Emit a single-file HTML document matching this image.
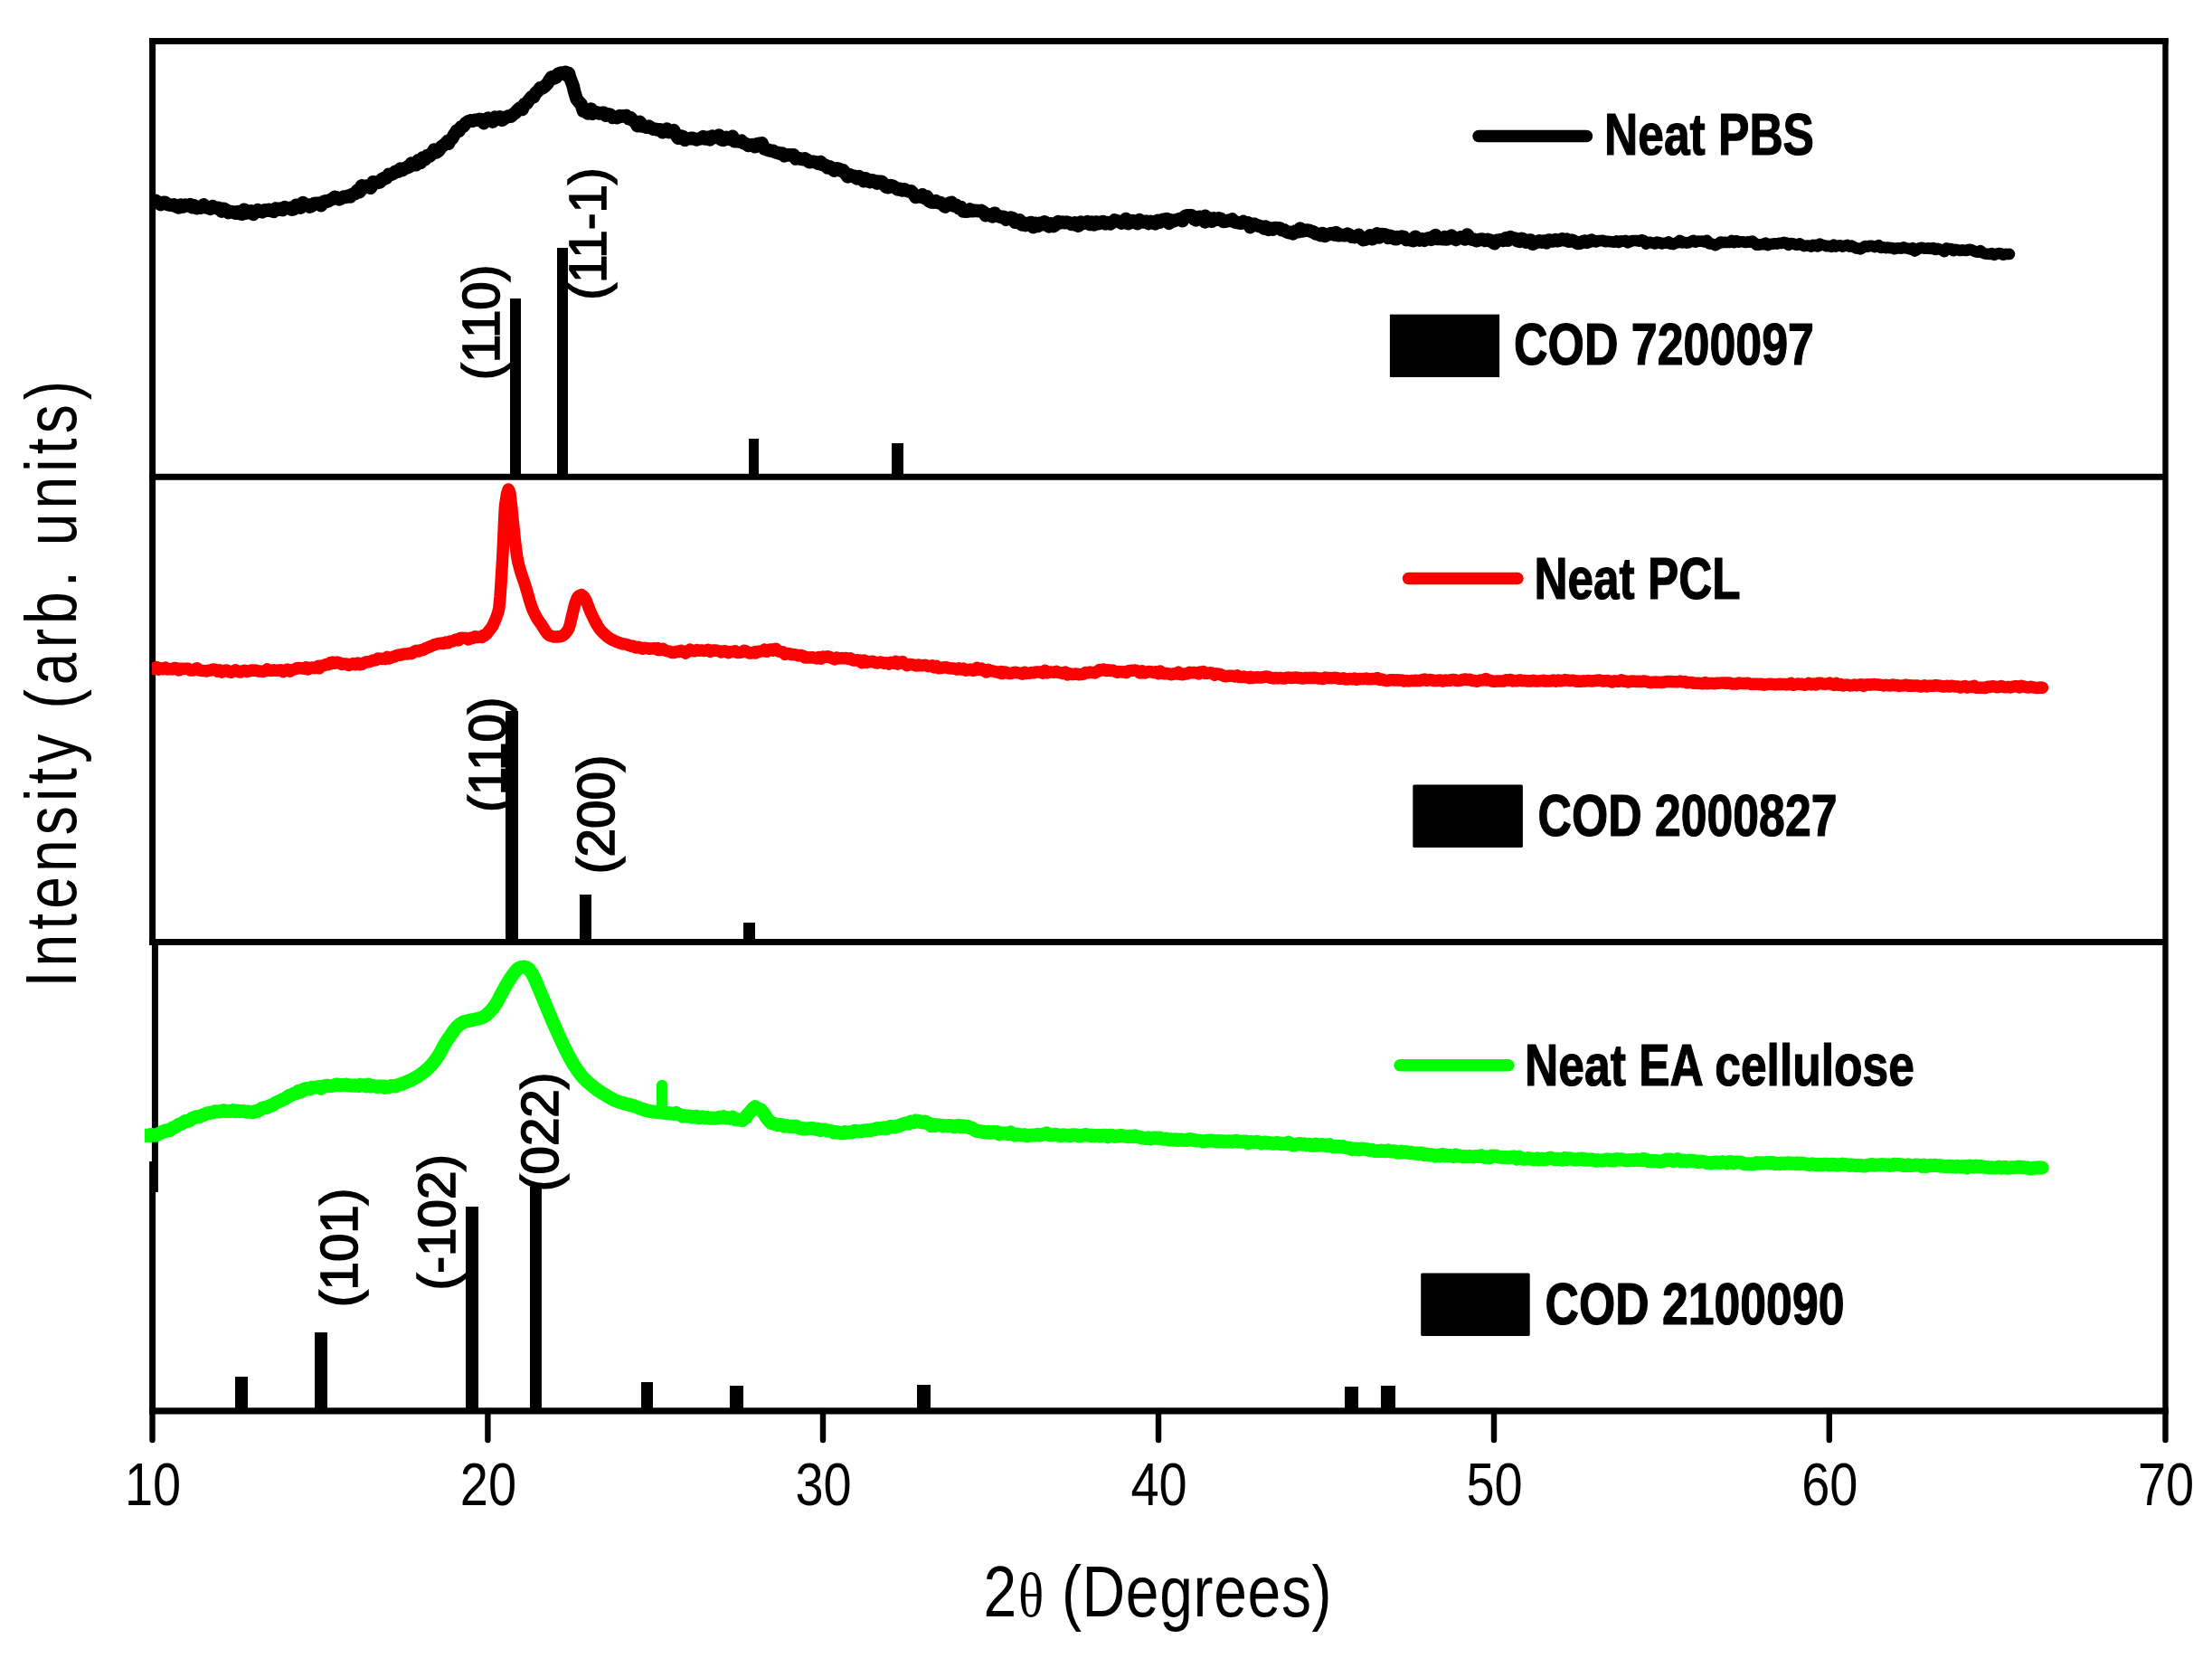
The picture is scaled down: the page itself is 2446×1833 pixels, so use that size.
<!DOCTYPE html>
<html lang="en">
<head>
<meta charset="utf-8">
<title>XRD patterns: Neat PBS, Neat PCL, Neat EA cellulose</title>
<style>
html,body{margin:0;padding:0;background:#fff;}
body{width:2446px;height:1833px;overflow:hidden;font-family:"Liberation Sans",sans-serif;}
svg{display:block;}
svg text{font-family:"Liberation Sans",sans-serif;fill:#000;}
.theta{font-family:"Liberation Serif","DejaVu Serif",serif;}
</style>
</head>
<body>
<svg width="2446" height="1833" viewBox="0 0 2446 1833">
<rect x="0" y="0" width="2446" height="1833" fill="#fff"/>

<!-- reference (COD) bars -->
<g fill="#000" shape-rendering="crispEdges">
<rect x="564.3" y="330.3" width="11.3" height="197.0"/>
<rect x="616.4" y="274.0" width="11.4" height="253.3"/>
<rect x="828.1" y="484.7" width="10.8" height="42.6"/>
<rect x="986.3" y="490.2" width="12.7" height="37.1"/>
<rect x="559.4" y="785.5" width="13.3" height="256.1"/>
<rect x="640.6" y="989.3" width="13.0" height="52.3"/>
<rect x="822.1" y="1019.8" width="12.8" height="21.8"/>
<rect x="260.1" y="1522.3" width="13.6" height="37.6"/>
<rect x="348.3" y="1472.9" width="13.6" height="87.0"/>
<rect x="515.2" y="1334.0" width="13.6" height="225.9"/>
<rect x="585.8" y="1311.5" width="13.5" height="248.4"/>
<rect x="709.0" y="1528.2" width="13.3" height="31.7"/>
<rect x="807.2" y="1531.7" width="14.9" height="28.2"/>
<rect x="1014.2" y="1530.9" width="14.7" height="29.0"/>
<rect x="1486.9" y="1533.0" width="14.9" height="26.9"/>
<rect x="1527.3" y="1531.7" width="15.7" height="28.2"/>
</g>

<!-- frame -->
<g stroke="#000" stroke-width="7" fill="none" stroke-linecap="butt">
<line x1="165" y1="45.5" x2="2397.7" y2="45.5"/>
<line x1="168.6" y1="42" x2="168.6" y2="1045"/>
<line x1="171.4" y1="1038" x2="171.4" y2="1318"/>
<line x1="168.6" y1="1284" x2="168.6" y2="1563"/>
<line x1="2394.5" y1="42" x2="2394.5" y2="1563" stroke-width="6.4"/>
<line x1="165" y1="527.3" x2="2397" y2="527.3"/>
<line x1="165" y1="1041.6" x2="2397" y2="1041.6"/>
<line x1="165" y1="1559.9" x2="2397.7" y2="1559.9" stroke-width="7.4"/>
</g>
<g stroke="#000" stroke-width="6.4" stroke-linecap="round">
<line x1="168.5" y1="1560" x2="168.5" y2="1592"/>
<line x1="539.4" y1="1560" x2="539.4" y2="1592"/>
<line x1="910" y1="1560" x2="910" y2="1592"/>
<line x1="1281" y1="1560" x2="1281" y2="1592"/>
<line x1="1652" y1="1560" x2="1652" y2="1592"/>
<line x1="2022.8" y1="1560" x2="2022.8" y2="1592"/>
<line x1="2394.5" y1="1560" x2="2394.5" y2="1592"/>
</g>

<!-- hkl labels -->
<g font-size="56.5" stroke="#000" stroke-width="1.6">
<text transform="translate(552.3,356.3) rotate(-90)" text-anchor="middle">(110)</text>
<text transform="translate(669.7,258.5) rotate(-90)" text-anchor="middle">(11-1)</text>
<text transform="translate(559.3,834.2) rotate(-90)" text-anchor="middle">(110)</text>
<text transform="translate(679.0,900.3) rotate(-90)" text-anchor="middle">(200)</text>
<text transform="translate(395.0,1379.4) rotate(-90)" text-anchor="middle">(101)</text>
<text transform="translate(503.0,1351.2) rotate(-90)" text-anchor="middle">(-102)</text>
<text transform="translate(617.0,1251.4) rotate(-90)" text-anchor="middle">(022)</text>
</g>

<!-- measured patterns -->
<defs>
<clipPath id="cpbs"><rect x="168.6" y="40" width="2300" height="500"/></clipPath>
<clipPath id="cpcl"><rect x="168" y="520" width="2300" height="520"/></clipPath>
<clipPath id="ccel"><rect x="160" y="1040" width="2300" height="520"/></clipPath>
</defs>
<path clip-path="url(#cpbs)" d="M160.0,223.5 L162.5,223.6 L165.0,223.7 L167.5,223.8 L170.0,223.3 L172.0,221.9 L175.0,223.9 L177.5,226.1 L180.0,224.0 L182.5,223.7 L185.0,226.1 L187.5,226.5 L190.0,226.9 L192.5,226.4 L195.0,228.4 L197.5,229.3 L200.0,226.5 L202.5,228.5 L205.0,226.6 L207.5,227.5 L210.0,226.3 L212.5,229.0 L215.0,227.5 L217.5,230.2 L220.0,229.5 L222.5,229.7 L225.0,226.4 L227.5,229.1 L230.0,229.8 L232.5,230.8 L235.0,228.1 L237.5,230.0 L240.0,229.8 L242.5,230.0 L245.0,233.6 L247.5,230.7 L250.0,232.2 L252.5,235.1 L255.0,234.0 L257.5,234.5 L260.0,235.6 L262.5,235.6 L263.0,234.1 L265.0,236.2 L267.5,236.7 L270.0,231.8 L272.5,235.5 L275.0,234.5 L277.5,233.3 L280.0,236.9 L282.5,234.4 L285.0,232.1 L287.5,233.5 L290.0,234.3 L292.5,232.3 L295.0,232.6 L297.5,231.9 L300.0,233.1 L302.5,233.9 L305.0,230.5 L307.5,231.9 L310.0,230.7 L312.5,232.0 L315.0,229.3 L317.0,230.2 L320.0,229.9 L322.5,231.7 L325.0,231.1 L327.5,226.7 L330.0,227.8 L332.5,229.6 L335.0,224.1 L337.5,226.4 L340.0,226.3 L342.5,228.6 L345.0,227.5 L347.5,225.1 L350.0,224.9 L352.5,224.8 L355.0,227.2 L357.5,223.3 L360.0,222.2 L362.5,222.6 L365.0,221.1 L367.5,220.0 L370.0,217.9 L371.0,219.0 L372.5,218.4 L375.0,220.3 L377.5,219.2 L380.0,217.6 L382.5,217.9 L385.0,216.5 L387.5,217.4 L390.0,214.6 L392.5,214.2 L395.0,210.7 L397.5,212.3 L398.5,207.8 L400.0,205.4 L402.5,207.5 L405.0,205.5 L407.5,206.4 L410.0,207.7 L412.5,201.3 L415.0,201.5 L417.5,202.0 L420.0,201.4 L422.5,198.0 L425.0,196.8 L425.6,197.5 L427.5,196.6 L430.0,192.8 L432.5,192.9 L435.0,191.7 L437.5,189.5 L440.0,189.8 L442.5,186.8 L445.0,188.1 L447.5,186.0 L450.0,185.4 L452.5,183.0 L452.8,184.3 L455.0,180.6 L457.5,181.2 L460.0,182.3 L462.5,177.3 L465.0,179.9 L467.5,174.4 L470.0,176.2 L472.5,172.2 L475.0,172.7 L477.5,170.3 L480.0,165.5 L482.5,168.4 L485.0,166.7 L487.5,162.9 L490.0,160.8 L492.5,159.2 L495.0,156.1 L496.0,158.6 L497.5,155.0 L500.0,153.2 L502.5,148.4 L504.0,146.5 L505.0,144.6 L507.5,144.6 L510.0,140.1 L512.5,139.7 L515.0,136.1 L517.5,134.3 L520.0,133.7 L520.6,133.3 L522.5,133.7 L525.0,132.7 L527.5,132.8 L530.0,131.9 L532.5,132.2 L535.0,136.1 L537.5,131.9 L540.0,130.6 L542.5,132.5 L545.0,134.6 L547.5,129.5 L547.8,132.2 L550.0,131.3 L552.5,129.3 L555.0,132.8 L557.5,131.0 L560.0,129.6 L562.5,128.3 L565.0,128.7 L567.5,126.3 L569.5,125.1 L572.5,121.7 L575.0,119.4 L577.5,121.0 L580.0,115.0 L582.5,114.3 L585.0,110.5 L587.5,107.7 L588.5,106.8 L590.0,107.1 L592.5,102.7 L595.0,100.5 L597.5,97.1 L600.0,97.4 L602.5,95.4 L605.0,92.8 L607.5,88.8 L610.0,85.3 L612.5,86.5 L615.0,85.5 L616.0,82.8 L617.5,81.7 L620.0,80.6 L621.0,81.2 L622.5,81.7 L625.0,79.7 L627.5,83.4 L629.0,81.1 L630.0,85.4 L632.5,91.7 L634.0,96.0 L635.0,100.8 L637.5,109.3 L640.0,112.5 L642.5,115.1 L645.0,122.8 L646.0,120.9 L647.5,123.4 L650.0,125.5 L652.5,122.0 L653.6,120.6 L655.0,125.7 L657.5,124.9 L660.0,124.3 L662.5,125.5 L665.0,125.0 L667.5,124.6 L670.0,127.8 L672.5,126.3 L675.0,126.9 L677.5,130.0 L680.0,129.4 L682.5,130.1 L685.0,128.1 L687.5,128.7 L690.0,128.2 L692.5,127.9 L695.0,131.1 L697.0,130.1 L700.0,133.3 L702.5,135.0 L705.0,139.3 L707.5,134.8 L710.0,139.5 L712.5,139.6 L715.0,140.7 L717.5,139.7 L720.0,141.2 L722.5,142.7 L725.0,142.8 L727.0,143.4 L730.0,143.3 L732.5,146.1 L735.0,145.1 L737.5,142.5 L740.0,146.0 L742.5,144.9 L745.0,144.0 L747.5,149.1 L750.0,152.8 L752.5,151.7 L754.0,150.7 L755.0,151.1 L757.5,154.8 L760.0,153.4 L762.5,153.3 L765.0,152.7 L767.5,153.3 L770.0,154.4 L772.0,153.8 L775.0,153.2 L777.5,151.2 L780.0,153.3 L782.5,151.7 L785.0,154.4 L787.5,150.5 L789.5,151.7 L792.5,151.9 L795.0,149.5 L797.5,154.3 L800.0,154.8 L802.5,151.9 L805.0,153.8 L807.5,154.1 L810.0,150.8 L812.5,156.3 L815.0,156.1 L817.5,156.5 L820.0,155.7 L822.5,158.3 L825.0,159.1 L827.5,161.0 L830.0,160.2 L832.5,160.0 L835.0,162.3 L837.5,159.0 L840.0,159.4 L842.5,158.2 L845.0,164.3 L847.5,165.2 L850.0,166.0 L852.0,166.7 L855.0,166.8 L857.5,168.4 L860.0,168.9 L862.5,169.6 L865.0,169.5 L867.5,172.3 L870.0,171.3 L872.5,171.4 L875.0,171.3 L877.5,171.2 L880.0,175.4 L882.5,174.8 L885.0,175.8 L887.5,176.1 L890.0,175.4 L892.5,177.0 L895.0,179.2 L897.5,178.8 L900.0,178.9 L902.5,179.4 L905.0,180.9 L907.5,179.1 L910.0,182.3 L912.5,182.5 L915.0,185.3 L917.5,184.3 L920.0,186.5 L922.5,188.6 L925.0,186.3 L927.5,186.7 L930.0,188.8 L930.7,189.0 L932.5,188.4 L935.0,191.9 L937.5,195.4 L940.0,193.5 L942.5,195.0 L945.0,194.9 L947.5,197.4 L950.0,195.3 L952.5,196.8 L955.0,200.3 L957.5,197.3 L960.0,200.4 L962.5,201.2 L965.0,199.4 L967.5,200.3 L970.0,202.8 L971.0,200.7 L972.5,200.9 L975.0,200.7 L977.5,203.6 L980.0,206.9 L982.5,207.3 L985.0,205.1 L987.5,205.8 L990.0,207.4 L992.5,209.4 L995.0,208.9 L997.5,210.4 L998.5,210.1 L1000.0,209.3 L1002.5,210.8 L1005.0,211.5 L1007.5,211.4 L1010.0,214.0 L1012.5,217.9 L1015.0,217.3 L1017.5,217.6 L1020.0,215.2 L1022.5,219.2 L1025.0,217.2 L1025.6,218.4 L1027.5,222.4 L1030.0,223.5 L1032.5,223.6 L1035.0,222.2 L1037.5,224.1 L1040.0,224.0 L1042.5,226.2 L1045.0,228.6 L1047.5,226.0 L1050.0,224.5 L1052.5,223.9 L1052.8,226.9 L1055.0,227.6 L1057.5,226.8 L1060.0,230.0 L1062.5,229.0 L1065.0,233.5 L1067.5,233.6 L1070.0,233.6 L1072.5,231.5 L1075.0,233.3 L1077.5,232.7 L1080.0,233.0 L1082.5,233.3 L1085.0,232.9 L1087.5,234.3 L1090.0,238.2 L1092.5,237.0 L1095.0,238.1 L1097.5,239.5 L1100.0,235.7 L1102.5,238.4 L1105.0,239.3 L1107.0,239.9 L1110.0,239.9 L1112.5,242.8 L1115.0,241.8 L1117.5,240.6 L1120.0,241.3 L1122.5,245.8 L1125.0,246.0 L1127.5,243.3 L1130.0,248.4 L1132.5,247.7 L1134.0,249.2 L1135.0,247.0 L1137.5,246.8 L1140.0,246.1 L1142.5,251.1 L1145.0,246.9 L1147.5,250.0 L1150.0,246.7 L1152.5,248.2 L1155.0,245.2 L1157.5,247.5 L1160.0,250.4 L1162.5,247.3 L1165.0,250.1 L1167.5,248.3 L1170.0,245.0 L1172.5,246.3 L1175.0,245.6 L1177.5,246.2 L1180.0,245.6 L1182.5,246.4 L1185.0,248.0 L1187.5,247.5 L1188.5,246.4 L1190.0,248.6 L1192.5,249.6 L1195.0,245.5 L1197.5,247.1 L1200.0,246.3 L1202.5,245.1 L1205.0,248.0 L1207.5,245.5 L1210.0,248.5 L1212.5,245.5 L1215.0,247.2 L1217.5,245.8 L1220.0,245.0 L1222.5,247.3 L1225.0,246.2 L1227.5,247.4 L1230.0,246.1 L1232.5,243.4 L1235.0,244.3 L1237.5,245.1 L1240.0,246.6 L1242.5,244.0 L1242.7,245.2 L1245.0,242.0 L1247.5,247.1 L1250.0,245.4 L1252.5,244.1 L1255.0,246.0 L1257.5,247.0 L1260.0,243.1 L1262.5,245.3 L1265.0,245.5 L1267.5,244.6 L1270.0,247.1 L1272.5,244.9 L1275.0,246.1 L1277.5,247.2 L1280.0,243.9 L1282.5,245.5 L1285.0,243.1 L1287.5,242.6 L1290.0,242.1 L1292.5,246.9 L1295.0,243.5 L1297.0,244.4 L1300.0,243.5 L1302.5,242.8 L1305.0,241.9 L1307.5,244.3 L1310.0,239.3 L1312.5,238.3 L1315.0,238.4 L1317.5,238.2 L1320.0,241.9 L1322.5,243.2 L1325.0,240.1 L1327.5,239.8 L1330.0,242.3 L1332.5,245.4 L1332.6,238.9 L1335.0,244.5 L1337.5,241.2 L1340.0,244.7 L1342.5,241.5 L1345.0,242.7 L1347.5,241.4 L1350.0,242.1 L1352.5,244.9 L1355.0,244.7 L1357.5,243.9 L1360.0,243.7 L1362.5,242.5 L1365.0,245.2 L1367.5,245.9 L1370.0,246.4 L1372.5,246.7 L1375.0,245.0 L1377.5,246.4 L1380.0,246.4 L1381.4,248.7 L1382.5,251.1 L1385.0,247.7 L1387.5,247.9 L1390.0,249.2 L1392.5,249.9 L1395.0,250.7 L1397.5,252.3 L1400.0,250.6 L1402.5,253.9 L1405.0,252.5 L1407.5,253.6 L1410.0,252.0 L1412.5,252.2 L1415.0,252.2 L1417.5,254.3 L1420.0,254.3 L1422.5,256.2 L1425.0,257.1 L1427.5,256.9 L1430.0,258.3 L1432.5,255.7 L1435.0,256.3 L1435.7,256.3 L1437.5,252.6 L1440.0,255.5 L1442.5,254.9 L1445.0,254.6 L1447.5,254.8 L1450.0,255.9 L1452.5,256.6 L1455.0,258.5 L1457.5,258.7 L1460.0,260.0 L1462.5,258.1 L1465.0,260.9 L1467.5,259.7 L1470.0,258.8 L1472.5,258.0 L1475.0,259.3 L1477.5,257.0 L1480.0,260.2 L1482.5,259.8 L1485.0,260.1 L1487.5,260.1 L1490.0,258.7 L1492.5,260.0 L1495.0,261.8 L1497.5,262.1 L1500.0,261.5 L1502.5,259.7 L1505.0,263.3 L1507.5,265.2 L1510.0,264.7 L1512.5,262.8 L1515.0,260.3 L1517.5,264.3 L1520.0,262.3 L1522.5,258.3 L1525.0,262.4 L1527.5,259.0 L1530.0,259.2 L1532.5,259.7 L1535.0,262.9 L1537.5,260.9 L1540.0,262.0 L1542.5,264.2 L1544.0,264.2 L1545.0,262.0 L1547.5,262.8 L1550.0,261.6 L1552.5,262.2 L1555.0,265.1 L1557.5,264.8 L1560.0,265.3 L1562.5,266.1 L1565.0,261.7 L1567.5,263.5 L1570.0,265.5 L1572.5,264.3 L1575.0,265.8 L1577.5,264.1 L1580.0,263.3 L1582.5,264.9 L1585.0,261.5 L1587.5,260.1 L1590.0,264.0 L1592.5,263.5 L1595.0,264.2 L1597.5,262.0 L1598.5,264.4 L1600.0,264.4 L1602.5,263.1 L1605.0,260.5 L1607.5,263.5 L1610.0,265.0 L1612.5,263.5 L1615.0,262.3 L1617.5,262.7 L1620.0,264.5 L1622.5,259.5 L1625.0,262.8 L1627.5,264.6 L1630.0,264.8 L1632.5,266.2 L1635.0,265.5 L1637.5,264.5 L1640.0,264.7 L1642.5,266.0 L1645.0,264.8 L1647.5,265.7 L1650.0,267.4 L1652.5,269.3 L1655.0,265.7 L1657.5,265.5 L1660.0,265.2 L1662.5,265.8 L1665.0,263.2 L1667.5,265.8 L1670.0,262.1 L1672.5,263.6 L1675.0,263.5 L1677.5,266.0 L1680.0,266.8 L1682.5,263.8 L1685.0,264.8 L1687.5,267.5 L1690.0,266.0 L1692.5,265.5 L1695.0,269.8 L1697.5,268.3 L1700.0,267.1 L1702.5,266.4 L1705.0,267.6 L1707.0,266.7 L1710.0,268.2 L1712.5,265.5 L1715.0,266.0 L1717.5,266.5 L1720.0,265.1 L1722.5,266.2 L1725.0,265.6 L1727.5,264.3 L1730.0,265.5 L1732.5,264.7 L1735.0,266.7 L1737.5,265.7 L1740.0,266.3 L1742.5,267.9 L1745.0,268.9 L1747.5,268.7 L1750.0,267.3 L1752.5,266.6 L1755.0,267.8 L1757.5,266.8 L1760.0,265.7 L1762.5,267.1" fill="none" stroke="#000" stroke-width="14.6" stroke-linejoin="round" stroke-linecap="butt"/>
<path d="M1760.0,265.7 L1762.5,267.1 L1765.0,267.4 L1767.5,266.1 L1770.0,266.1 L1772.5,265.9 L1775.0,267.2 L1777.5,266.7 L1780.0,267.1 L1782.5,267.3 L1785.0,267.8 L1787.5,266.4 L1790.0,268.0 L1792.5,266.4 L1795.0,266.8 L1797.5,265.9 L1800.0,268.3 L1802.5,267.2 L1805.0,266.0 L1807.5,266.0 L1810.0,266.1 L1812.5,266.7 L1815.0,265.3 L1815.6,265.3 L1817.5,265.8 L1820.0,269.6 L1822.5,268.1 L1825.0,267.8 L1827.5,268.8 L1830.0,269.5 L1832.5,267.6 L1835.0,268.1 L1837.5,269.5 L1840.0,268.8 L1842.5,268.6 L1845.0,267.4 L1847.5,269.8 L1850.0,270.1 L1852.5,268.8 L1855.0,268.4 L1857.5,265.7 L1860.0,268.4 L1862.5,267.8 L1865.0,268.6 L1867.5,268.2 L1870.0,267.2 L1872.5,265.8 L1875.0,267.6 L1877.5,266.6 L1880.0,266.7 L1882.5,266.6 L1885.0,267.4 L1887.5,265.7 L1890.0,269.5 L1892.5,269.5 L1895.0,270.3 L1897.0,271.2 L1900.0,269.4 L1902.5,267.5 L1905.0,268.1 L1907.5,267.8 L1910.0,268.0 L1912.5,267.9 L1915.0,266.0 L1917.5,268.1 L1920.0,266.1 L1922.5,267.7 L1925.0,267.3 L1927.5,267.2 L1930.0,268.0 L1932.5,267.4 L1935.0,267.6 L1937.5,266.5 L1940.0,268.5 L1942.5,270.8 L1945.0,270.8 L1947.5,270.1 L1950.0,270.2 L1952.5,268.7 L1955.0,271.0 L1957.5,269.8 L1960.0,269.8 L1962.5,269.3 L1965.0,269.6 L1967.5,268.7 L1970.0,268.9 L1972.5,267.9 L1975.0,268.4 L1977.5,270.9 L1980.0,269.0 L1982.5,269.2 L1985.0,270.4 L1987.5,270.7 L1990.0,269.3 L1992.5,270.9 L1995.0,272.1 L1997.5,271.6 L2000.0,271.5 L2002.5,272.6 L2005.0,270.8 L2007.5,271.8 L2008.8,270.7 L2010.0,272.5 L2012.5,269.7 L2015.0,270.9 L2017.5,271.4 L2020.0,272.3 L2022.5,271.9 L2025.0,272.8 L2027.5,270.7 L2030.0,272.6 L2032.5,271.7 L2035.0,271.2 L2037.5,272.7 L2040.0,271.7 L2042.5,270.9 L2045.0,272.6 L2047.5,271.7 L2050.0,273.1 L2052.5,274.4 L2055.0,274.6 L2057.5,275.4 L2060.0,273.7 L2062.5,272.0 L2065.0,272.7 L2067.5,271.8 L2070.0,271.7 L2072.5,273.1 L2075.0,272.5 L2077.5,271.2 L2080.0,273.9 L2082.5,273.3 L2085.0,274.1 L2087.5,273.5 L2090.0,274.3 L2092.5,274.0 L2095.0,275.2 L2097.5,274.4 L2100.0,274.2 L2102.5,274.6 L2105.0,273.4 L2107.5,274.4 L2110.0,274.8 L2112.5,275.6 L2115.0,274.3 L2117.4,277.6 L2120.0,275.9 L2122.5,274.1 L2125.0,273.7 L2127.5,274.7 L2130.0,274.7 L2132.5,274.2 L2135.0,274.9 L2137.5,274.1 L2140.0,276.0 L2142.5,274.8 L2145.0,275.5 L2147.5,276.6 L2150.0,278.1 L2152.5,274.4 L2155.0,275.4 L2157.5,275.0 L2160.0,277.2 L2162.5,275.8 L2165.0,276.4 L2167.5,277.0 L2170.0,276.4 L2172.5,276.9 L2175.0,277.0 L2177.5,275.7 L2180.0,276.2 L2182.5,277.4 L2185.0,278.4 L2187.5,278.7 L2190.0,277.2 L2192.5,279.4 L2195.0,280.5 L2197.5,280.8 L2200.0,280.9 L2202.5,280.1 L2205.0,281.8 L2207.5,280.8 L2210.0,280.1 L2212.5,280.3 L2215.0,281.7 L2217.5,280.9 L2220.0,281.0 L2222.0,280.9" fill="none" stroke="#000" stroke-width="12.6" stroke-linejoin="round" stroke-linecap="round"/>
<path clip-path="url(#cpcl)" d="M158.0,739.8 L160.5,739.8 L163.0,739.8 L165.5,739.9 L168.0,739.3 L170.5,739.6 L173.0,737.5 L175.5,740.1 L178.0,738.7 L180.5,739.8 L183.0,738.2 L185.5,740.0 L188.0,739.5 L190.5,740.0 L193.0,738.4 L195.5,738.9 L198.0,741.1 L200.0,739.2 L203.0,739.4 L205.5,739.3 L208.0,739.2 L210.5,741.0 L213.0,741.1 L215.5,739.9 L218.0,738.8 L220.5,741.0 L223.0,741.4 L225.5,741.5 L228.0,742.0 L230.5,741.2 L233.0,741.1 L235.5,740.0 L238.0,740.2 L240.5,742.2 L243.0,740.8 L245.5,743.0 L248.0,741.3 L250.5,740.9 L253.0,742.6 L255.5,743.2 L258.0,742.1 L260.5,740.9 L262.8,742.2 L265.5,743.0 L268.0,741.9 L270.5,741.2 L273.0,742.4 L275.5,742.1 L278.0,741.0 L280.5,741.3 L283.0,741.1 L285.5,741.9 L288.0,742.1 L290.5,742.4 L293.0,741.7 L295.5,739.9 L298.0,741.2 L300.0,741.4 L303.0,740.8 L305.5,741.3 L308.0,741.1 L310.5,740.8 L313.0,742.6 L315.5,741.1 L318.0,740.0 L320.5,742.1 L323.0,740.6 L325.5,740.0 L328.0,738.8 L330.5,738.6 L333.0,738.7 L335.5,739.0 L338.0,739.4 L338.8,737.7 L340.5,739.9 L343.0,738.4 L345.5,738.0 L348.0,738.6 L350.5,737.7 L352.0,736.2 L353.0,738.7 L355.5,736.1 L358.0,735.7 L360.5,734.4 L363.0,734.7 L365.5,732.5 L366.0,733.7 L368.0,732.1 L370.5,733.3 L373.0,732.0 L375.5,732.9 L378.0,734.4 L380.5,733.9 L383.0,734.0 L385.5,735.4 L388.0,734.4 L390.4,733.5 L393.0,734.7 L395.5,733.1 L398.0,734.7 L400.5,734.1 L403.0,732.6 L405.5,731.7 L408.0,731.7 L410.5,730.8 L413.0,729.9 L415.5,729.8 L418.0,727.9 L420.5,728.3 L423.0,728.2 L425.5,728.1 L425.6,728.6 L428.0,726.5 L430.5,728.0 L433.0,726.8 L435.5,726.1 L438.0,724.9 L440.5,724.1 L443.0,724.3 L445.5,723.3 L448.0,723.1 L450.5,722.9 L452.8,722.3 L455.5,722.5 L458.0,720.6 L460.5,719.3 L463.0,720.0 L465.5,718.7 L468.0,718.5 L470.5,716.7 L473.0,716.0 L475.5,714.7 L478.0,713.9 L480.0,712.8 L483.0,712.0 L485.5,711.4 L488.0,711.1 L490.5,711.5 L493.0,710.0 L495.5,710.8 L498.0,708.9 L500.5,709.0 L503.0,707.5 L505.5,706.8 L507.0,707.9 L508.0,706.0 L510.5,705.2 L513.0,705.4 L515.5,705.4 L518.0,707.0 L520.5,705.3 L523.0,705.4 L525.5,703.8 L528.0,704.6 L530.5,704.0 L533.0,704.5 L534.2,702.4 L535.5,703.1 L538.0,701.1 L540.5,697.5 L541.0,697.0 L543.0,694.6 L545.0,691.5 L548.0,684.7 L549.0,682.0 L550.5,677.9 L551.8,672.5 L553.0,659.8 L554.0,645.0 L555.5,620.1 L555.9,612.8 L558.0,567.0 L558.6,558.5 L560.5,546.0 L562.1,540.9 L563.0,542.3 L563.8,545.0 L565.5,558.5 L566.8,572.1 L568.0,583.9 L569.5,598.0 L570.5,606.4 L572.2,618.2 L573.0,622.1 L575.5,631.3 L576.0,633.0 L578.0,638.9 L580.3,645.4 L583.0,654.5 L585.5,663.4 L588.0,671.2 L588.5,672.5 L590.5,677.2 L593.0,682.1 L593.5,683.0 L595.5,686.2 L598.0,689.7 L599.3,691.5 L600.5,693.3 L603.0,697.3 L605.5,700.8 L607.5,702.4 L610.5,703.6 L613.0,704.0 L615.5,704.0 L618.0,703.8 L619.7,703.7 L620.5,703.5 L623.0,702.2 L625.0,700.5 L628.0,696.6 L629.2,694.2 L630.5,689.8 L632.5,681.0 L635.5,668.7 L636.0,667.1 L638.0,661.6 L639.0,660.0 L640.5,658.6 L642.8,657.6 L645.5,659.7 L646.5,661.0 L648.0,663.6 L650.5,670.1 L653.0,676.7 L653.6,678.0 L655.5,681.9 L658.0,686.9 L660.5,691.4 L663.0,695.3 L664.4,697.0 L665.5,698.2 L668.0,700.7 L670.5,702.9 L673.0,704.9 L675.5,706.5 L678.0,707.8 L680.5,708.9 L683.0,709.9 L685.5,710.8 L688.0,711.7 L690.5,712.0 L693.0,712.5 L695.5,713.5 L698.0,714.2 L700.0,714.2 L703.0,716.0 L705.5,715.3 L708.0,716.0 L710.5,717.3 L713.0,716.3 L715.5,716.6 L718.0,717.3 L720.5,717.1 L723.0,716.7 L725.5,716.9 L727.0,716.4 L728.0,718.5 L730.5,718.4 L733.0,717.3 L735.5,719.1 L738.0,719.8 L740.5,720.2 L743.0,721.5 L745.5,721.5 L748.0,720.2 L750.5,720.5 L753.0,719.3 L754.3,720.3 L755.5,720.1 L758.0,722.1 L760.5,720.0 L763.0,718.2 L765.5,719.5 L768.0,719.7 L770.5,718.6 L773.0,719.2 L775.5,718.9 L778.0,719.4 L780.5,719.3 L783.0,718.3 L785.5,720.4 L788.0,719.0 L790.5,719.0 L793.0,719.3 L795.5,720.0 L797.7,720.9 L800.5,719.7 L803.0,720.2 L805.5,721.6 L808.0,720.4 L810.5,720.6 L813.0,719.8 L815.5,721.5 L818.0,721.3 L820.0,721.0 L823.0,719.2 L825.5,720.3 L828.0,721.9 L830.5,722.0 L833.0,721.3 L835.5,721.9 L835.7,720.4 L838.0,720.8 L840.5,720.0 L843.0,719.8 L845.5,718.1 L846.0,720.0 L848.0,720.2 L850.5,718.4 L853.0,717.9 L854.7,719.2 L855.5,718.0 L858.0,717.3 L860.5,720.0 L863.0,720.5 L865.5,720.7 L868.0,723.3 L870.0,722.4 L873.0,722.7 L875.5,723.7 L878.0,723.5 L880.5,724.0 L883.0,724.9 L885.5,724.5 L888.0,725.3 L890.0,727.1 L893.0,726.8 L895.5,727.0 L898.0,726.8 L900.5,727.1 L903.0,728.0 L905.5,726.5 L908.0,728.1 L910.5,726.1 L913.0,726.4 L915.5,725.7 L918.0,726.8 L920.5,727.7 L923.0,728.9 L925.5,727.0 L928.0,727.9 L930.5,727.6 L933.0,727.7 L935.5,727.5 L938.0,728.5 L940.5,727.8 L943.0,729.8 L944.2,730.0 L945.5,729.9 L948.0,729.8 L950.5,729.9 L953.0,732.7 L955.5,729.9 L958.0,732.3 L960.5,731.8 L963.0,731.5 L965.5,731.3 L968.0,732.7 L970.5,732.9 L973.0,731.9 L975.5,732.4 L978.0,733.2 L980.5,732.8 L983.0,734.1 L985.5,732.3 L988.0,733.1 L990.5,731.4 L993.0,734.0 L995.5,732.5 L998.0,731.5 L998.5,733.2 L1000.5,733.9 L1003.0,735.6 L1005.5,734.5 L1008.0,734.7 L1010.5,735.1 L1013.0,736.0 L1015.5,734.9 L1018.0,735.8 L1020.5,735.7 L1023.0,735.3 L1025.5,736.4 L1028.0,736.6 L1030.5,735.9 L1033.0,737.8 L1035.5,736.3 L1038.0,738.7 L1040.5,738.6 L1043.0,737.9 L1045.5,737.6 L1048.0,738.3 L1050.5,738.8 L1052.8,739.1 L1055.5,739.0 L1058.0,740.0 L1060.5,738.9 L1063.0,740.0 L1065.5,739.1 L1068.0,741.2 L1070.5,740.7 L1073.0,740.0 L1075.5,741.3 L1078.0,740.8 L1080.5,738.2 L1083.0,740.4 L1085.5,739.2 L1088.0,741.3 L1090.5,743.1 L1093.0,740.4 L1095.5,741.5 L1098.0,741.9 L1100.5,742.6 L1103.0,743.0 L1105.5,743.9 L1107.0,742.4 L1108.0,744.6 L1110.5,742.9 L1113.0,743.4 L1115.5,744.4 L1118.0,744.4 L1120.5,743.4 L1123.0,743.3 L1125.5,743.9 L1128.0,744.2 L1130.5,745.1 L1133.0,743.3 L1134.2,744.5 L1135.5,744.1 L1138.0,744.2 L1140.5,743.6 L1143.0,743.7 L1145.5,742.9 L1147.8,742.9 L1150.5,742.9 L1153.0,744.1 L1155.5,741.3 L1158.0,743.9 L1160.5,743.1 L1163.0,743.1 L1165.0,743.3 L1168.0,742.3 L1170.5,743.6 L1173.0,743.7 L1175.5,744.5 L1178.0,743.2 L1180.5,745.9 L1183.0,744.7 L1185.5,745.4 L1188.0,745.2 L1188.5,745.1 L1190.5,745.1 L1193.0,745.7 L1195.5,745.6 L1198.0,745.2 L1200.5,743.4 L1203.0,743.7 L1205.5,743.1 L1208.0,743.5 L1210.5,744.0 L1213.0,742.5 L1215.5,741.7 L1215.6,740.6 L1218.0,740.7 L1220.5,740.0 L1223.0,741.5 L1225.5,740.7 L1228.0,741.6 L1230.5,741.1 L1233.0,742.2 L1235.5,743.2 L1238.0,742.5 L1240.5,743.0 L1242.7,742.7 L1245.5,743.6 L1248.0,741.7 L1250.5,741.3 L1253.0,741.2 L1255.5,741.1 L1258.0,742.1 L1260.5,744.1 L1263.0,741.7 L1265.5,744.0 L1268.0,743.2 L1270.5,742.4 L1273.0,742.7 L1275.5,743.4 L1278.0,742.8 L1280.5,744.7 L1283.0,742.1 L1285.5,744.6 L1288.0,744.8 L1290.5,744.5 L1293.0,745.1 L1295.5,745.7 L1297.0,745.1 L1298.0,744.8 L1300.5,745.1 L1303.0,743.2 L1305.5,745.5 L1308.0,745.7 L1310.5,744.7 L1313.0,744.9 L1315.5,743.3 L1318.0,743.8 L1320.5,743.6 L1323.0,743.7 L1325.5,744.8 L1327.0,743.2 L1328.0,743.6 L1330.5,742.6 L1333.0,744.3 L1335.5,744.2 L1338.0,743.8 L1340.5,744.1 L1343.0,746.3 L1345.5,744.8 L1348.0,745.2 L1350.5,746.0 L1353.0,747.2 L1355.0,747.8 L1358.0,747.3 L1360.5,747.2 L1363.0,747.2 L1365.5,747.9 L1368.0,746.9 L1370.5,748.4 L1373.0,748.6 L1375.5,748.1 L1378.0,748.7 L1380.5,749.1 L1381.4,749.6 L1383.0,748.4 L1385.5,749.5 L1388.0,749.0 L1390.5,748.7 L1393.0,749.1 L1395.5,748.9 L1398.0,748.4 L1400.5,748.0 L1403.0,748.4 L1405.5,749.5 L1408.0,750.0 L1410.5,749.4 L1413.0,749.8 L1415.5,749.4 L1418.0,749.9 L1420.5,749.9 L1423.0,749.2 L1425.5,749.1 L1428.0,749.5 L1430.5,749.3 L1433.0,748.9 L1435.5,749.4 L1438.0,749.5 L1440.5,750.1 L1443.0,749.6 L1445.5,749.6 L1448.0,749.6 L1450.5,749.4 L1453.0,749.3 L1455.5,749.4 L1458.0,750.1 L1460.5,750.1 L1463.0,750.5 L1465.5,749.0 L1468.0,749.6 L1470.5,749.5 L1473.0,749.7 L1475.5,749.3 L1478.0,749.5 L1480.5,750.3 L1483.0,750.3 L1485.5,749.8 L1488.0,751.1 L1490.0,751.0 L1493.0,750.4 L1495.5,750.8 L1498.0,750.1 L1500.5,751.3 L1503.0,750.6 L1505.5,750.4 L1508.0,750.5 L1510.5,750.0 L1513.0,750.8 L1515.5,750.8 L1518.0,750.5 L1520.5,750.6 L1523.0,749.6 L1525.5,751.4 L1528.0,750.9 L1530.5,751.9 L1533.0,752.5 L1535.5,752.2 L1538.0,751.7 L1540.5,751.7 L1543.0,752.0 L1545.5,751.8 L1548.0,751.9 L1550.5,751.9 L1553.0,753.0 L1555.5,752.5 L1558.0,753.0 L1560.5,752.5 L1563.0,752.6 L1565.5,752.3 L1568.0,752.4 L1570.5,752.4 L1571.4,752.1 L1573.0,751.5 L1575.5,751.1 L1578.0,752.3 L1580.5,751.6 L1583.0,751.7 L1585.5,752.6 L1588.0,752.6 L1590.5,752.2 L1593.0,751.9 L1595.5,753.0 L1598.0,752.0 L1600.5,752.2 L1603.0,752.2 L1605.5,751.4 L1608.0,751.4 L1610.5,752.3 L1613.0,752.4 L1615.5,752.1 L1618.0,751.2 L1620.5,751.0 L1623.0,751.6 L1625.5,751.2 L1628.0,752.5 L1630.5,752.6 L1633.0,753.2 L1635.5,752.5 L1638.0,751.9 L1640.5,751.8 L1643.0,750.6 L1645.5,752.1 L1648.0,752.3 L1650.5,753.3 L1653.0,753.3 L1655.5,753.1 L1658.0,752.9 L1660.5,753.1 L1663.0,753.1 L1665.5,751.8 L1668.0,751.9 L1670.5,751.4 L1673.0,752.9 L1675.5,752.6 L1678.0,752.7 L1680.5,751.8 L1683.0,752.6 L1685.5,752.5 L1688.0,752.9 L1690.5,752.8 L1693.0,753.0 L1695.5,752.3 L1698.0,753.0 L1700.5,752.9 L1703.0,752.7 L1705.5,752.4 L1707.0,752.3 L1708.0,753.0 L1710.5,752.8 L1713.0,753.0 L1715.5,752.8 L1718.0,752.0 L1720.5,753.2 L1723.0,752.0 L1725.5,752.8 L1728.0,752.4 L1730.5,751.6 L1733.0,752.0 L1735.5,752.4 L1738.0,752.3 L1740.5,752.3 L1743.0,753.2 L1745.5,753.1 L1748.0,753.3 L1750.5,752.8 L1753.0,753.1 L1755.5,752.4 L1758.0,752.7 L1760.5,753.0 L1763.0,752.6 L1765.5,752.3 L1768.0,751.9 L1770.5,752.5 L1773.0,753.1 L1775.5,752.8 L1778.0,752.6 L1780.5,753.2 L1783.0,754.0 L1785.5,752.8 L1788.0,753.2 L1790.5,753.3 L1793.0,751.8 L1795.5,753.2 L1798.0,752.9 L1800.5,754.0 L1803.0,753.3 L1805.5,753.0 L1808.0,753.2 L1810.5,753.5 L1813.0,753.2 L1815.5,753.5 L1818.0,752.9 L1820.5,753.5 L1823.0,754.2 L1825.5,754.7 L1828.0,754.2 L1830.5,754.0 L1833.0,754.3 L1835.5,754.2 L1838.0,754.4 L1840.5,754.0 L1842.7,753.4 L1845.5,753.4 L1848.0,753.5 L1850.5,753.8 L1853.0,753.7 L1855.5,753.7 L1858.0,753.1 L1860.5,753.9 L1863.0,753.6 L1865.5,754.7 L1868.0,754.5 L1870.5,754.4 L1873.0,755.2 L1875.5,755.3 L1878.0,755.2 L1880.5,755.7 L1883.0,755.8 L1885.5,754.6 L1888.0,755.7 L1890.5,755.5 L1893.0,755.6 L1895.5,755.8 L1898.0,755.3 L1900.0,755.2 L1903.0,755.1 L1905.5,754.9 L1908.0,755.4 L1910.5,755.0 L1913.0,755.3 L1915.5,756.1 L1918.0,756.1 L1920.5,756.1 L1923.0,755.0 L1925.5,755.5 L1928.0,755.5 L1930.5,755.7 L1933.0,755.2 L1935.5,756.2 L1938.0,756.2 L1940.5,756.2 L1943.0,756.2 L1945.5,756.6 L1948.0,756.2 L1950.5,757.2 L1953.0,756.7 L1955.5,756.3 L1958.0,756.3 L1960.5,756.4 L1963.0,756.8 L1965.5,756.5 L1968.0,756.2 L1970.5,756.5 L1973.0,756.4 L1975.5,756.9 L1978.0,756.6 L1980.5,755.4 L1983.0,757.3 L1985.5,756.6 L1988.0,756.0 L1990.5,756.4 L1993.0,756.2 L1995.5,757.3 L1998.0,756.7 L2000.0,755.4 L2003.0,756.7 L2005.5,756.0 L2008.0,757.0 L2010.5,755.2 L2013.0,755.2 L2015.5,756.1 L2018.0,756.2 L2020.5,755.9 L2023.0,755.1 L2025.5,756.5 L2028.0,757.4 L2030.5,755.5 L2033.0,757.3 L2035.5,756.5 L2038.0,758.0 L2040.5,757.3 L2043.0,757.1 L2045.5,757.9 L2048.0,757.7 L2050.5,757.1 L2053.0,757.8 L2055.5,757.1 L2058.0,756.8 L2060.5,758.4 L2063.0,756.9 L2065.5,756.8 L2068.0,757.2 L2070.5,756.7 L2073.0,756.6 L2075.5,756.9 L2078.0,757.1 L2080.5,757.4 L2083.0,757.9 L2085.5,757.3 L2088.0,757.7 L2090.5,758.0 L2093.0,757.0 L2095.5,757.7 L2098.0,757.5 L2100.0,758.5 L2103.0,757.9 L2105.5,757.7 L2108.0,757.2 L2110.5,758.3 L2113.0,757.8 L2115.5,758.3 L2118.0,757.9 L2120.5,758.1 L2123.0,759.0 L2125.5,758.7 L2128.0,757.8 L2130.5,758.9 L2133.0,758.2 L2135.5,758.2 L2138.0,758.2 L2140.5,757.6 L2143.0,758.1 L2145.5,758.3 L2148.0,758.9 L2150.5,758.9 L2153.0,758.3 L2155.5,759.1 L2158.0,758.3 L2160.5,758.6 L2163.0,759.1 L2165.5,759.0 L2168.0,760.1 L2170.5,759.1 L2173.0,758.6 L2175.5,760.0 L2178.0,759.3 L2180.5,759.5 L2183.0,758.4 L2185.5,760.3 L2188.0,760.2 L2190.5,760.2 L2193.0,760.3 L2195.5,760.6 L2198.0,759.3 L2200.0,759.4 L2203.0,758.7 L2205.5,759.1 L2208.0,759.8 L2210.5,759.3 L2213.0,758.6 L2215.5,759.6 L2218.0,759.7 L2220.5,759.4 L2223.0,759.9 L2225.5,759.3 L2228.0,758.7 L2230.5,758.7 L2233.0,759.9 L2235.5,758.4 L2238.0,759.2 L2240.5,759.7 L2243.0,759.9 L2245.5,759.2 L2248.0,759.8 L2250.5,760.2 L2253.0,760.4 L2255.5,760.1 L2258.0,760.2 L2258.5,760.2" fill="none" stroke="#ff0000" stroke-width="13.5" stroke-linejoin="round" stroke-linecap="butt"/>
<circle cx="2258.5" cy="760.2" r="6.75" fill="#ff0000"/>
<path clip-path="url(#ccel)" d="M150.0,1255.9 L152.5,1255.9 L155.0,1255.9 L157.5,1255.8 L160.0,1255.7 L160.2,1255.0 L162.5,1255.5 L165.0,1255.5 L167.5,1254.2 L170.0,1255.2 L172.0,1255.3 L175.0,1253.8 L177.5,1252.6 L180.0,1251.0 L181.4,1251.3 L182.5,1250.0 L185.0,1249.8 L187.5,1249.8 L190.0,1247.4 L192.5,1246.5 L195.0,1245.2 L197.5,1243.4 L200.0,1242.5 L202.5,1241.2 L205.0,1239.4 L207.5,1239.4 L208.5,1239.4 L210.0,1238.5 L212.5,1236.3 L215.0,1235.5 L217.5,1234.4 L220.0,1234.9 L222.5,1233.5 L225.0,1232.8 L227.5,1231.4 L230.0,1230.4 L232.5,1230.5 L235.0,1230.0 L237.5,1228.7 L240.0,1229.0 L242.5,1229.1 L243.8,1228.9 L245.0,1228.1 L247.5,1227.8 L250.0,1228.4 L252.5,1228.6 L255.0,1228.4 L257.5,1228.1 L258.0,1227.7 L260.0,1228.8 L262.5,1228.2 L265.0,1228.7 L267.5,1228.4 L270.0,1228.7 L272.5,1229.3 L273.7,1229.1 L275.0,1229.1 L277.5,1229.4 L280.0,1229.8 L282.5,1228.4 L285.0,1228.4 L287.5,1226.7 L288.0,1226.6 L290.0,1225.0 L292.5,1224.5 L295.0,1224.5 L297.5,1223.0 L300.0,1222.0 L302.5,1221.2 L303.5,1220.1 L305.0,1219.2 L307.5,1218.1 L310.0,1217.0 L312.5,1215.7 L315.0,1214.7 L317.5,1213.0 L320.0,1211.4 L322.5,1210.5 L325.0,1209.1 L327.5,1208.8 L330.0,1206.2 L330.7,1206.7 L332.5,1207.2 L335.0,1204.9 L337.5,1203.7 L340.0,1203.5 L342.5,1204.0 L345.0,1202.3 L347.0,1202.4 L350.0,1202.1 L352.5,1201.5 L355.0,1203.2 L357.5,1201.1 L360.0,1200.2 L362.5,1200.2 L363.2,1200.7 L365.0,1200.5 L367.5,1200.4 L370.0,1199.7 L372.5,1198.9 L375.0,1199.8 L377.5,1199.4 L380.0,1199.6 L382.5,1199.1 L385.0,1199.7 L387.5,1200.0 L390.0,1200.3 L392.5,1199.8 L395.0,1200.3 L397.5,1200.4 L398.5,1199.4 L400.0,1200.0 L402.5,1199.8 L405.0,1201.0 L407.5,1199.2 L410.0,1201.1 L412.5,1200.4 L415.0,1201.2 L417.5,1201.4 L420.0,1200.8 L422.5,1201.4 L425.0,1201.1 L425.6,1202.4 L427.5,1201.9 L430.0,1201.9 L432.5,1200.6 L435.0,1200.4 L437.5,1200.9 L438.0,1200.2 L440.0,1199.6 L442.5,1198.8 L445.0,1198.0 L447.5,1197.0 L450.0,1196.0 L452.5,1194.9 L455.0,1193.8 L457.5,1192.5 L460.0,1191.1 L461.0,1190.5 L462.5,1189.6 L465.0,1187.9 L467.5,1186.1 L470.0,1184.1 L471.8,1182.6 L472.5,1182.0 L475.0,1179.5 L477.5,1176.8 L479.0,1175.0 L480.0,1173.8 L482.5,1170.5 L485.0,1166.8 L485.3,1166.3 L487.5,1162.4 L490.0,1157.6 L492.0,1154.0 L495.0,1149.3 L497.5,1145.6 L499.0,1143.5 L500.0,1142.1 L502.5,1138.5 L505.0,1135.5 L507.5,1133.2 L510.0,1131.3 L512.5,1130.0 L515.0,1129.2 L517.5,1128.6 L520.0,1128.2 L522.5,1127.6 L523.0,1127.5 L525.0,1127.0 L527.5,1126.5 L530.0,1125.9 L532.5,1125.1 L534.2,1124.5 L535.0,1124.1 L537.5,1122.3 L540.0,1120.0 L541.0,1119.0 L542.5,1117.5 L545.0,1114.7 L547.5,1111.4 L547.8,1111.0 L550.0,1107.3 L552.5,1102.4 L554.0,1099.5 L555.0,1097.7 L557.5,1093.1 L560.0,1088.7 L561.3,1086.5 L562.5,1084.6 L565.0,1080.7 L567.5,1077.1 L568.0,1076.5 L570.0,1073.9 L572.5,1071.1 L573.5,1070.5 L575.0,1069.8 L577.5,1069.1 L579.0,1068.9 L580.0,1069.0 L582.5,1069.9 L584.5,1071.0 L587.5,1074.8 L590.0,1079.5 L592.5,1084.7 L595.0,1090.8 L596.6,1094.6 L597.5,1096.7 L600.0,1102.7 L602.5,1108.8 L603.0,1110.0 L605.0,1114.8 L607.5,1120.8 L610.0,1126.7 L610.2,1127.2 L612.5,1132.5 L615.0,1138.1 L617.0,1142.5 L620.0,1149.1 L622.5,1154.5 L623.7,1157.0 L625.0,1159.7 L627.5,1164.8 L630.0,1169.5 L632.5,1173.9 L635.0,1178.0 L637.3,1181.5 L640.0,1185.3 L642.5,1188.6 L645.0,1191.5 L647.5,1194.1 L650.0,1196.4 L652.5,1198.6 L653.6,1199.5 L655.0,1200.6 L657.5,1202.6 L660.0,1204.5 L662.5,1206.2 L664.5,1207.5 L667.5,1209.4 L670.0,1210.9 L672.5,1212.4 L675.0,1213.9 L677.5,1215.2 L680.0,1216.4 L682.5,1217.5 L683.4,1217.8 L685.0,1218.4 L687.5,1219.1 L690.0,1219.8 L692.5,1220.5 L695.0,1221.1 L697.5,1221.8 L700.0,1222.5 L702.5,1223.3 L705.0,1224.2 L707.5,1225.2 L710.0,1226.1 L712.5,1227.0 L715.0,1227.7 L716.3,1228.0 L717.5,1228.3 L720.0,1228.7 L722.5,1229.1 L724.0,1229.3 L725.0,1229.4 L727.5,1229.6 L730.0,1229.8 L732.0,1230.0 L735.0,1230.3 L737.5,1230.5 L740.0,1230.8 L742.0,1231.0 L745.0,1231.4 L747.5,1230.4 L750.0,1231.9 L752.5,1232.8 L755.0,1234.2 L757.5,1233.7 L760.0,1233.9 L762.5,1233.9 L765.0,1235.1 L767.5,1234.7 L767.8,1234.5 L770.0,1234.3 L772.5,1235.7 L775.0,1235.3 L777.5,1234.8 L780.0,1235.9 L782.5,1235.5 L785.0,1236.2 L787.5,1236.1 L790.0,1236.3 L792.5,1236.1 L795.0,1235.2 L797.5,1235.4 L800.0,1234.6 L802.5,1236.1 L805.0,1235.6 L807.5,1236.4 L808.5,1235.9 L810.0,1235.2 L812.5,1237.6 L815.0,1237.7 L816.0,1237.7 L817.5,1237.8 L820.0,1238.6 L820.8,1238.6 L822.5,1236.9 L825.0,1235.6 L826.0,1233.2 L827.5,1231.3 L830.0,1228.9 L831.0,1227.4 L832.5,1225.7 L835.0,1223.6 L835.7,1224.5 L837.5,1225.4 L840.0,1226.8 L840.5,1226.2 L842.5,1228.3 L845.0,1231.3 L847.0,1234.8 L850.0,1238.8 L852.5,1241.6 L854.7,1241.7 L857.5,1242.8 L860.0,1243.6 L862.5,1243.5 L865.0,1243.7 L867.5,1245.2 L870.0,1244.6 L872.5,1245.5 L875.0,1245.2 L877.5,1245.7 L880.0,1244.9 L882.5,1246.3 L885.0,1247.4 L887.5,1248.0 L890.0,1247.8 L892.5,1247.9 L895.0,1247.6 L897.5,1247.4 L900.0,1247.9 L902.5,1248.4 L905.0,1248.2 L907.5,1249.6 L910.0,1248.9 L912.5,1249.1 L915.0,1250.1 L917.5,1250.1 L920.0,1250.7 L922.5,1252.1 L925.0,1251.5 L927.5,1252.2 L930.0,1252.8 L932.5,1252.7 L933.4,1251.6 L935.0,1252.5 L937.5,1251.9 L940.0,1251.7 L942.5,1251.8 L945.0,1250.2 L947.5,1250.5 L950.0,1250.7 L952.5,1250.8 L955.0,1250.0 L957.5,1249.7 L960.0,1249.6 L962.5,1249.8 L965.0,1248.7 L967.5,1248.7 L970.0,1247.5 L971.4,1247.5 L972.5,1247.8 L975.0,1247.3 L977.5,1246.7 L980.0,1247.8 L982.5,1246.3 L985.0,1245.4 L987.5,1245.7 L990.0,1246.0 L992.5,1244.7 L995.0,1244.5 L997.5,1242.9 L998.5,1242.8 L1000.0,1242.3 L1002.5,1241.7 L1005.0,1242.2 L1007.0,1240.0 L1010.0,1240.8 L1012.5,1239.0 L1014.8,1239.2 L1017.5,1240.3 L1020.0,1240.9 L1022.5,1241.1 L1023.0,1239.9 L1025.0,1241.7 L1027.5,1241.9 L1030.0,1244.7 L1032.5,1244.1 L1033.8,1244.4 L1035.0,1243.5 L1037.5,1244.1 L1040.0,1243.9 L1042.5,1245.1 L1045.0,1244.6 L1047.5,1244.7 L1050.0,1244.4 L1052.5,1244.9 L1055.0,1246.0 L1057.5,1244.8 L1060.0,1244.2 L1062.5,1245.7 L1065.0,1244.7 L1066.4,1244.9 L1067.5,1245.8 L1070.0,1245.3 L1072.5,1247.0 L1075.0,1247.3 L1077.5,1249.1 L1080.0,1250.6 L1082.5,1250.5 L1085.0,1251.1 L1085.3,1250.7 L1087.5,1251.3 L1090.0,1252.1 L1092.5,1251.2 L1095.0,1252.4 L1097.5,1251.4 L1100.0,1252.0 L1102.5,1251.6 L1105.0,1253.9 L1107.5,1252.9 L1110.0,1253.0 L1112.5,1252.7 L1115.0,1253.7 L1117.5,1252.0 L1120.0,1253.7 L1122.5,1255.1 L1125.0,1254.1 L1127.5,1254.5 L1130.0,1255.0 L1132.5,1254.5 L1134.2,1255.3 L1135.0,1255.8 L1137.5,1255.3 L1140.0,1255.3 L1142.5,1255.0 L1145.0,1254.7 L1147.5,1254.3 L1150.0,1254.9 L1152.5,1254.3 L1155.0,1253.7 L1157.5,1252.7 L1160.0,1254.6 L1162.5,1255.1 L1165.0,1254.6 L1167.5,1254.3 L1170.0,1254.8 L1172.5,1255.8 L1175.0,1254.8 L1177.5,1254.9 L1180.0,1255.3 L1182.5,1255.7 L1185.0,1254.7 L1187.5,1254.8 L1190.0,1254.8 L1192.5,1255.9 L1195.0,1255.7 L1197.5,1255.1 L1200.0,1254.4 L1202.5,1254.9 L1205.0,1255.5 L1207.5,1255.1 L1210.0,1255.8 L1212.5,1255.4 L1215.0,1255.6 L1215.6,1256.0 L1217.5,1255.8 L1220.0,1255.2 L1222.5,1255.2 L1225.0,1256.8 L1227.5,1255.2 L1230.0,1255.5 L1232.5,1256.4 L1235.0,1256.0 L1237.5,1255.9 L1240.0,1255.3 L1242.5,1256.1 L1245.0,1256.3 L1247.5,1256.7 L1250.0,1256.1 L1252.5,1256.8 L1255.0,1255.8 L1257.5,1257.0 L1260.0,1256.9 L1262.5,1257.9 L1265.0,1258.3 L1267.5,1258.6 L1270.0,1257.8 L1272.5,1259.1 L1275.0,1258.1 L1277.5,1258.0 L1280.0,1258.4 L1282.5,1258.0 L1285.0,1259.1 L1287.5,1259.3 L1290.0,1259.1 L1292.5,1260.1 L1295.0,1259.8 L1297.5,1260.2 L1300.0,1259.7 L1302.5,1260.5 L1305.0,1260.0 L1307.5,1260.3 L1310.0,1260.5 L1312.5,1260.5 L1315.0,1259.5 L1317.5,1259.8 L1320.0,1260.4 L1322.5,1261.0 L1325.0,1261.1 L1327.5,1261.4 L1330.0,1261.9 L1332.5,1261.7 L1335.0,1261.2 L1337.5,1261.0 L1340.0,1261.0 L1342.5,1261.5 L1345.0,1261.7 L1347.5,1261.6 L1350.0,1261.7 L1352.5,1261.7 L1355.0,1262.0 L1357.5,1262.0 L1360.0,1261.8 L1362.5,1262.2 L1365.0,1261.6 L1367.5,1261.3 L1370.0,1262.1 L1372.5,1262.3 L1375.0,1262.1 L1377.5,1262.1 L1380.0,1263.8 L1382.5,1262.5 L1385.0,1262.7 L1387.5,1262.8 L1390.0,1262.3 L1392.3,1262.9 L1395.0,1263.9 L1397.5,1263.2 L1400.0,1263.0 L1402.5,1263.6 L1405.0,1263.7 L1407.5,1264.3 L1410.0,1263.8 L1412.5,1263.5 L1415.0,1264.1 L1417.5,1264.7 L1420.0,1264.2 L1422.5,1264.7 L1425.0,1263.1 L1427.5,1265.1 L1430.0,1266.1 L1432.5,1265.5 L1435.0,1264.8 L1437.5,1264.6 L1440.0,1265.2 L1442.5,1264.8 L1445.0,1265.7 L1447.5,1265.2 L1450.0,1266.3 L1452.5,1266.5 L1455.0,1265.1 L1457.5,1266.2 L1460.0,1265.8 L1462.5,1265.4 L1462.8,1265.8 L1465.0,1266.1 L1467.5,1266.9 L1470.0,1265.5 L1472.5,1267.0 L1475.0,1267.8 L1477.5,1267.3 L1480.0,1267.6 L1482.5,1267.7 L1485.0,1267.6 L1487.5,1268.6 L1490.0,1268.9 L1492.5,1269.4 L1495.0,1270.7 L1497.5,1270.1 L1500.0,1270.1 L1502.5,1271.0 L1505.0,1270.0 L1507.5,1270.2 L1510.0,1270.7 L1512.5,1270.8 L1515.0,1271.7 L1517.0,1271.3 L1520.0,1272.5 L1522.5,1272.6 L1525.0,1272.6 L1527.5,1272.0 L1530.0,1272.6 L1532.5,1272.7 L1535.0,1271.8 L1537.5,1272.7 L1540.0,1273.0 L1542.5,1272.8 L1545.0,1274.0 L1547.5,1274.2 L1550.0,1273.1 L1552.5,1273.8 L1555.0,1273.4 L1557.5,1274.6 L1560.0,1274.1 L1562.5,1275.0 L1565.0,1274.9 L1567.5,1275.5 L1570.0,1275.1 L1572.5,1274.9 L1575.0,1276.6 L1577.5,1275.9 L1580.0,1277.1 L1582.5,1276.6 L1585.0,1277.1 L1587.5,1277.9 L1590.0,1277.2 L1592.5,1277.7 L1595.0,1276.4 L1597.5,1277.6 L1598.5,1277.1 L1600.0,1277.4 L1602.5,1277.5 L1605.0,1277.7 L1607.5,1278.6 L1610.0,1276.9 L1612.5,1278.1 L1615.0,1278.0 L1617.5,1278.9 L1620.0,1278.4 L1622.5,1278.8 L1625.0,1278.3 L1627.5,1278.7 L1630.0,1278.9 L1632.5,1278.4 L1635.0,1278.6 L1637.5,1277.6 L1640.0,1278.8 L1642.5,1279.4 L1645.0,1278.8 L1647.5,1279.7 L1650.0,1278.0 L1652.5,1277.9 L1655.0,1278.4 L1657.5,1279.1 L1660.0,1279.4 L1662.5,1279.4 L1665.0,1279.4 L1667.5,1279.7 L1670.0,1279.5 L1672.5,1279.1 L1675.0,1279.1 L1677.5,1281.1 L1680.0,1279.2 L1682.5,1280.4 L1685.0,1281.4 L1687.5,1281.1 L1690.0,1280.5 L1692.5,1281.2 L1695.0,1281.7 L1697.5,1281.6 L1700.0,1280.7 L1702.5,1281.7 L1705.0,1281.2 L1707.0,1281.6 L1710.0,1281.5 L1712.5,1280.6 L1715.0,1280.1 L1717.5,1281.1 L1720.0,1281.8 L1722.5,1281.2 L1725.0,1281.4 L1727.5,1282.3 L1730.0,1280.4 L1732.5,1281.6 L1735.0,1280.7 L1737.5,1281.2 L1740.0,1281.7 L1742.5,1282.1 L1745.0,1281.3 L1747.5,1281.5 L1750.0,1280.9 L1752.5,1282.3 L1755.0,1281.8 L1757.5,1282.3 L1760.0,1281.8 L1762.5,1282.3 L1765.0,1283.4 L1767.5,1282.5 L1770.0,1283.0 L1772.5,1283.1 L1775.0,1282.2 L1777.5,1281.8 L1780.0,1283.0 L1782.5,1282.5 L1785.0,1283.1 L1787.5,1281.5 L1790.0,1281.7 L1792.5,1281.7 L1795.0,1282.2 L1797.5,1282.9 L1800.0,1282.9 L1802.5,1282.6 L1805.0,1282.4 L1807.5,1282.6 L1810.0,1282.0 L1812.5,1282.5 L1815.0,1282.5 L1817.5,1281.2 L1820.0,1282.2 L1822.5,1283.8 L1825.0,1283.2 L1827.5,1283.7 L1830.0,1283.3 L1832.5,1283.7 L1835.0,1284.4 L1837.5,1283.9 L1840.0,1283.4 L1842.5,1282.0 L1842.7,1282.9 L1845.0,1282.2 L1847.5,1282.1 L1850.0,1283.5 L1852.5,1283.3 L1855.0,1281.7 L1857.5,1283.4 L1860.0,1283.5 L1862.5,1282.9 L1865.0,1283.9 L1867.5,1282.9 L1870.0,1283.2 L1872.5,1283.3 L1875.0,1283.6 L1877.5,1284.8 L1880.0,1284.0 L1882.5,1284.2 L1885.0,1284.6 L1887.5,1285.6 L1890.0,1285.4 L1892.5,1285.9 L1895.0,1285.2 L1897.5,1284.8 L1900.0,1285.3 L1902.5,1285.4 L1905.0,1284.6 L1907.5,1285.3 L1910.0,1285.9 L1912.5,1284.5 L1915.0,1284.7 L1917.5,1285.7 L1920.0,1284.9 L1922.5,1285.1 L1925.0,1285.1 L1927.5,1286.3 L1930.0,1286.7 L1932.5,1286.8 L1935.0,1286.7 L1937.5,1287.1 L1940.0,1286.8 L1942.5,1285.5 L1945.0,1286.0 L1947.5,1285.8 L1950.0,1286.0 L1952.5,1285.6 L1955.0,1285.4 L1957.5,1285.7 L1960.0,1285.3 L1962.5,1286.4 L1965.0,1286.2 L1967.5,1286.8 L1970.0,1286.0 L1972.5,1286.5 L1975.0,1285.9 L1977.5,1285.7 L1980.0,1286.4 L1982.5,1285.9 L1985.0,1286.6 L1987.5,1285.8 L1990.0,1286.6 L1992.5,1285.9 L1995.0,1286.7 L1997.5,1287.0 L2000.0,1287.5 L2002.5,1287.1 L2005.0,1286.9 L2007.5,1287.6 L2010.0,1287.4 L2012.5,1287.6 L2015.0,1287.6 L2017.5,1287.3 L2020.0,1287.2 L2022.5,1287.8 L2025.0,1287.3 L2027.5,1287.5 L2030.0,1287.8 L2032.5,1287.9 L2035.0,1287.5 L2037.5,1287.1 L2040.0,1287.6 L2042.5,1287.8 L2045.0,1288.4 L2047.5,1288.0 L2050.0,1288.2 L2052.5,1288.7 L2055.0,1288.3 L2057.5,1288.4 L2060.0,1289.1 L2062.5,1289.0 L2065.0,1288.2 L2067.5,1288.0 L2070.0,1287.4 L2072.5,1288.2 L2075.0,1288.1 L2077.5,1287.9 L2080.0,1287.6 L2082.5,1287.8 L2085.0,1287.7 L2087.5,1287.9 L2090.0,1288.4 L2092.5,1288.0 L2095.0,1287.2 L2097.5,1287.6 L2100.0,1287.5 L2102.5,1287.7 L2105.0,1288.6 L2107.5,1288.6 L2110.0,1287.8 L2112.5,1288.5 L2115.0,1288.4 L2117.5,1288.1 L2120.0,1288.1 L2122.5,1288.2 L2125.0,1289.4 L2127.5,1288.0 L2130.0,1289.5 L2132.5,1288.9 L2135.0,1288.3 L2137.5,1288.6 L2140.0,1288.3 L2142.5,1288.6 L2145.0,1289.0 L2147.5,1288.8 L2150.0,1289.6 L2152.5,1289.6 L2155.0,1289.3 L2157.5,1289.5 L2160.0,1289.8 L2162.5,1290.0 L2165.0,1289.2 L2167.5,1290.1 L2170.0,1289.9 L2172.5,1289.4 L2175.0,1291.0 L2177.5,1289.1 L2180.0,1289.3 L2182.5,1290.0 L2185.0,1289.0 L2187.5,1289.7 L2190.0,1289.4 L2192.5,1290.0 L2195.0,1290.4 L2197.5,1290.6 L2200.0,1291.0 L2202.5,1290.8 L2205.0,1291.1 L2207.5,1290.9 L2210.0,1290.1 L2212.5,1291.3 L2215.0,1290.5 L2217.5,1290.3 L2220.0,1291.5 L2222.5,1291.0 L2225.0,1290.7 L2227.5,1290.7 L2230.0,1290.8 L2232.5,1289.9 L2235.0,1290.8 L2237.5,1290.5 L2240.0,1291.1 L2242.5,1291.0 L2245.0,1292.1 L2247.5,1291.6 L2250.0,1290.9 L2252.5,1290.9 L2255.0,1290.7 L2257.5,1290.9 L2258.0,1290.9" fill="none" stroke="#00ff00" stroke-width="15" stroke-linejoin="round" stroke-linecap="butt"/>
<circle cx="2258" cy="1290.9" r="7.5" fill="#00ff00"/>
<line x1="732.1" y1="1231" x2="732.1" y2="1200" stroke="#00ff00" stroke-width="12.4" stroke-linecap="round"/>

<!-- legends -->
<g stroke-width="13.5" stroke-linecap="round">
<line x1="1635" y1="150.6" x2="1754.5" y2="150.6" stroke="#000"/>
<line x1="1557.5" y1="639.4" x2="1678" y2="639.4" stroke="#ff0000"/>
<line x1="1548" y1="1177.7" x2="1668" y2="1177.7" stroke="#00ff00"/>
</g>
<g fill="#000">
<rect x="1536.9" y="347.6" width="121.2" height="69.4"/>
<rect x="1562.3" y="867.6" width="121.6" height="69.4" rx="1.5"/>
<rect x="1571.2" y="1407.6" width="120.5" height="69.4" rx="1.5"/>
</g>
<g font-size="64" font-weight="bold" stroke="#000" stroke-width="1.2" stroke-linejoin="round">
<text x="1774" y="171.2" textLength="232" lengthAdjust="spacingAndGlyphs">Neat PBS</text>
<text x="1674" y="403.4" textLength="332" lengthAdjust="spacingAndGlyphs">COD 7200097</text>
<text x="1696.5" y="661.9" textLength="228" lengthAdjust="spacingAndGlyphs">Neat PCL</text>
<text x="1700.5" y="924.2" textLength="331" lengthAdjust="spacingAndGlyphs">COD 2000827</text>
<text x="1686" y="1200.1" textLength="431" lengthAdjust="spacingAndGlyphs">Neat EA cellulose</text>
<text x="1708.5" y="1463.9" textLength="331" lengthAdjust="spacingAndGlyphs">COD 2100090</text>
</g>

<!-- axis tick labels -->
<g font-size="67">
<text transform="translate(169.0,1663.5) scale(0.835,1)" text-anchor="middle">10</text>
<text transform="translate(539.9,1663.5) scale(0.835,1)" text-anchor="middle">20</text>
<text transform="translate(910.5,1663.5) scale(0.835,1)" text-anchor="middle">30</text>
<text transform="translate(1281.5,1663.5) scale(0.835,1)" text-anchor="middle">40</text>
<text transform="translate(1652.5,1663.5) scale(0.835,1)" text-anchor="middle">50</text>
<text transform="translate(2023.3,1663.5) scale(0.835,1)" text-anchor="middle">60</text>
<text transform="translate(2395.0,1663.5) scale(0.835,1)" text-anchor="middle">70</text>
</g>

<!-- axis titles -->
<text transform="translate(1280.3,1787) scale(0.835,1)" text-anchor="middle" font-size="79" letter-spacing="0.8">2<tspan class="theta" font-size="70.5" dx="1.5">θ</tspan> (Degrees)</text>
<text transform="translate(84,1091.5) rotate(-90) scale(0.81,1)" font-size="79" letter-spacing="6.4">Intensity (arb. units)</text>
</svg>
</body>
</html>
